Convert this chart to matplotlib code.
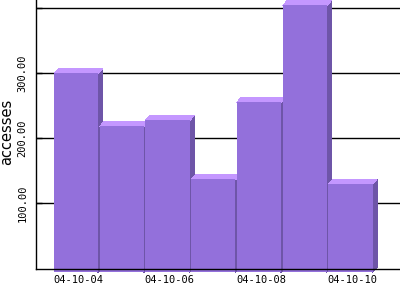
import matplotlib
matplotlib.use('Agg')
import matplotlib.pyplot as plt
from matplotlib.patches import Polygon

dates = ['04-10-04', '04-10-05', '04-10-06', '04-10-07', '04-10-08', '04-10-09', '04-10-10']
accesses = [300, 219, 228, 137, 256, 404, 130]
shown_labels = ['04-10-04', '', '04-10-06', '', '04-10-08', '', '04-10-10']
yticks = [100, 200, 300, 400]
ytick_labels = ['100.00', '200.00', '300.00', '']

front = '#9370DB'
top_col = '#C497FF'
side = '#6E55A8'

fig = plt.figure(figsize=(4, 3), dpi=100)
ax = fig.add_axes([0.09, 0.105, 0.91, 0.895])

width = 0.97
dx = 0.098   # 3d depth in x (data units)
dy = 7.0     # 3d depth in y (data units)
base = -6

for i, v in enumerate(accesses):
    x0 = i
    x1 = i + width
    # side face
    ax.add_patch(Polygon([(x1 - 0.01, base), (x1 - 0.01, v), (x1 + dx, v + dy), (x1 + dx, base + dy)],
                         closed=True, facecolor=side, edgecolor='none', zorder=2,
                         clip_on=False, antialiased=False))
    # top face
    ax.add_patch(Polygon([(x0, v - 1), (x1, v - 1), (x1 + dx, v + dy), (x0 + dx, v + dy)],
                         closed=True, facecolor=top_col, edgecolor='none', zorder=2,
                         clip_on=False, antialiased=False))
    # front face
    ax.add_patch(Polygon([(x0, base), (x1, base), (x1, v), (x0, v)],
                         closed=True, facecolor=front, edgecolor='none', zorder=2,
                         clip_on=False, antialiased=False))

ax.set_xlim(-0.394, 7.57)
ax.set_ylim(0, 412)

ax.set_yticks(yticks)
ax.set_yticklabels(ytick_labels, rotation=90, va='center', family='DejaVu Sans Mono', fontsize=7.5)
ax.set_xticks([i + (width + dx) / 2 for i in range(len(dates))])
ax.set_xticklabels(shown_labels, family='DejaVu Sans Mono', fontsize=7.5)
ax.tick_params(axis='y', direction='in', length=4, width=1, pad=6)
ax.tick_params(axis='x', length=0, pad=5)

ax.grid(axis='y', color='black', linewidth=1)
ax.set_axisbelow(True)
for s in ['top', 'right']:
    ax.spines[s].set_visible(False)
for s in ['left', 'bottom']:
    ax.spines[s].set_linewidth(1)
    ax.spines[s].set_zorder(5)

fig.text(0.016, 0.56, 'accesses', rotation=90, va='center', ha='center', fontsize=10.5)

fig.savefig('out.png', dpi=100)
